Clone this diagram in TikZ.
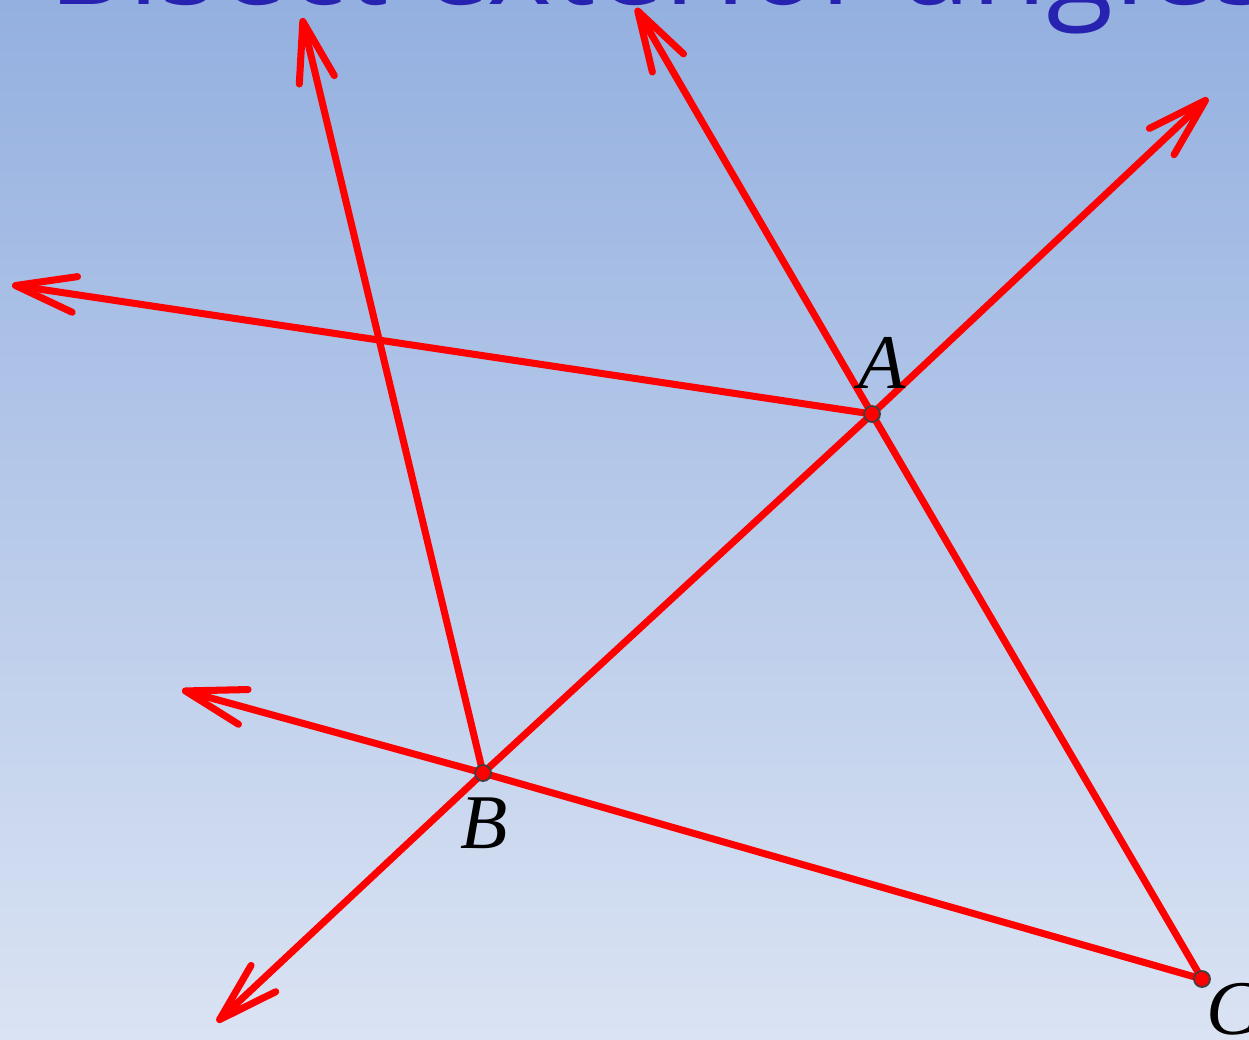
\documentclass[tikz,border=0pt]{standalone}
\usepackage{fontspec}
\setmainfont{Liberation Serif}
\newfontfamily\titlefont{Open Sans}
\usetikzlibrary{arrows.meta}
\definecolor{bgtop}{RGB}{148,176,224}
\definecolor{bgbot}{RGB}{218,227,243}
\definecolor{titleblue}{RGB}{40,34,176}
\definecolor{linered}{RGB}{255,0,0}
\tikzset{
  redline/.style={draw=linered, line width=2pt, line cap=round, line join=round},
  barb/.style={-{Straight Barb[length=6mm,width=3.6mm,round]}},
  dbarb/.style={{Straight Barb[length=6mm,width=3.6mm,round]}-{Straight Barb[length=6mm,width=3.6mm,round]}},
  ptdot/.style={circle, fill=linered, draw=black!75, line width=0.5pt, inner sep=0pt, minimum size=0.16cm},
  ptlabel/.style={font=\fontsize{22}{24}\selectfont\itshape, text=black, inner sep=0pt},
}
\begin{document}
\begin{tikzpicture}[x=0.01cm, y=-0.01cm]
\useasboundingbox (0,0) rectangle (1249,1039);
\clip (0,0) rectangle (1249,1039);
\shade[top color=bgtop, bottom color=bgbot] (0,0) rectangle (1249,1039);
% title (cut off at top)
\node[anchor=base west, inner sep=0pt, text=titleblue, font=\titlefont\fontsize{35}{38}\selectfont] (title) at (48,4) {Bisect exterior angles};
% points
\coordinate (A) at (872,414);
\coordinate (B) at (483,773);
\coordinate (C) at (1202,979);
% arrow ends
\coordinate (eBAtop) at (1208,98);
\coordinate (eBAbot) at (217,1022);
\coordinate (eCA) at (636,8);
\coordinate (eCB) at (182,690);
\coordinate (eAbis) at (12,285);
\coordinate (eBbis) at (302,18);
% lines
\draw[redline, dbarb] (eBAbot) -- (B) -- (A) -- (eBAtop);
\draw[redline, barb] (C) -- (A) -- (eCA);
\draw[redline, barb] (C) -- (B) -- (eCB);
\draw[redline, barb] (A) -- (eAbis);
\draw[redline, barb] (B) -- (eBbis);
% dots
\node[ptdot] (dA) at (A) {};
\node[ptdot] (dB) at (B) {};
\node[ptdot] (dC) at (C) {};
% labels
\node[ptlabel, anchor=base] (lA) at (882,388) {A};
\node[ptlabel, anchor=base] (lB) at (484,848) {B};
\node[ptlabel, anchor=base west] (lC) at (1206,1034) {C};
\end{tikzpicture}
\end{document}
